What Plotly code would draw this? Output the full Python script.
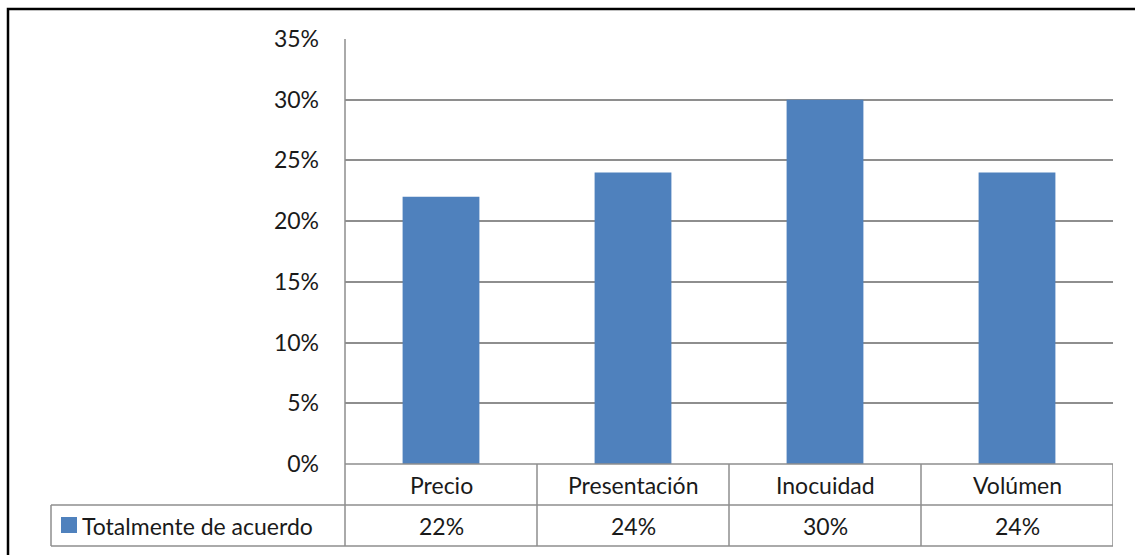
import plotly.graph_objects as go

# Chart data
categories = ["Precio", "Presentación", "Inocuidad", "Volúmen"]
series_name = "Totalmente de acuerdo"
values = [0.22, 0.24, 0.30, 0.24]
y_ticks = [0, 0.05, 0.10, 0.15, 0.20, 0.25, 0.30, 0.35]

W, H = 1135, 555
BAR = "#4F81BD"
GRID = "#8e8e8e"
TXT = "#1a1a1a"
FONT = "Lato"
FS = 23


def px(x):
    return x / W


def py(y):
    return 1 - y / H


# pixel layout of the plot area and the data table beneath it
left, right = 345, 1113
top, zero = 39, 464
row1, row2 = 505, 546
legend_left = 51

fig = go.Figure()
fig.add_trace(go.Bar(
    x=categories, y=values, name=series_name,
    marker=dict(color=BAR, line=dict(width=0)),
    width=0.4, showlegend=False,
))

shapes = []
# outer chart frame
shapes.append(dict(type="rect", xref="paper", yref="paper",
                   x0=px(8), x1=px(W + 10), y0=py(H + 10), y1=py(9),
                   line=dict(color="black", width=2.5)))
# data table horizontal rules
for yy, x0 in [(zero, left), (row1, legend_left), (row2, legend_left)]:
    shapes.append(dict(type="line", xref="paper", yref="paper",
                       x0=px(x0), x1=px(right), y0=py(yy), y1=py(yy),
                       line=dict(color=GRID, width=1.5)))
# left axis line running through the table
shapes.append(dict(type="line", xref="paper", yref="paper",
                   x0=px(left), x1=px(left), y0=py(top), y1=py(row2),
                   line=dict(color=GRID, width=1.5)))
# column separators inside the table
for i in range(1, len(categories) + 1):
    shapes.append(dict(type="line", xref="x", yref="paper",
                       x0=i - 0.5, x1=i - 0.5, y0=py(zero), y1=py(row2),
                       line=dict(color=GRID, width=1.5)))
# legend cell left edge
shapes.append(dict(type="line", xref="paper", yref="paper",
                   x0=px(legend_left), x1=px(legend_left), y0=py(row1), y1=py(row2),
                   line=dict(color=GRID, width=1.5)))
# legend key
shapes.append(dict(type="rect", xref="paper", yref="paper",
                   x0=px(61), x1=px(77), y0=py(533), y1=py(517),
                   fillcolor=BAR, line=dict(width=0)))

cell_font = dict(family=FONT, size=FS, color=TXT)
annotations = []
for cat, v in zip(categories, values):
    annotations.append(dict(x=cat, y=py((zero + row1) / 2), xref="x", yref="paper",
                            xanchor="center", yanchor="middle",
                            text=cat, showarrow=False, font=cell_font))
    annotations.append(dict(x=cat, y=py((row1 + row2) / 2), xref="x", yref="paper",
                            xanchor="center", yanchor="middle",
                            text=f"{v:.0%}", showarrow=False, font=cell_font))
annotations.append(dict(x=px(80), y=py((row1 + row2) / 2), xref="paper", yref="paper",
                        xanchor="left", yanchor="middle",
                        text=series_name, showarrow=False, font=cell_font))

fig.update_layout(
    width=W, height=H, autosize=False,
    margin=dict(l=0, r=0, t=0, b=0),
    paper_bgcolor="white", plot_bgcolor="white",
    font=dict(family=FONT, size=FS, color=TXT),
    xaxis=dict(domain=[px(left), px(right)], range=[-0.5, len(categories) - 0.5],
               showticklabels=False, showgrid=False, zeroline=False, showline=False,
               ticks="", automargin=False),
    yaxis=dict(domain=[py(zero), py(top)], range=[0, 0.35],
               tickvals=y_ticks, tickformat=".0%",
               showgrid=True, gridcolor=GRID, gridwidth=1.5,
               zeroline=False, showline=False, ticks="",
               ticklabelstandoff=25, automargin=False,
               tickfont=dict(family=FONT, size=FS, color=TXT)),
    shapes=shapes,
    annotations=annotations,
)

fig.write_html("out.html")
